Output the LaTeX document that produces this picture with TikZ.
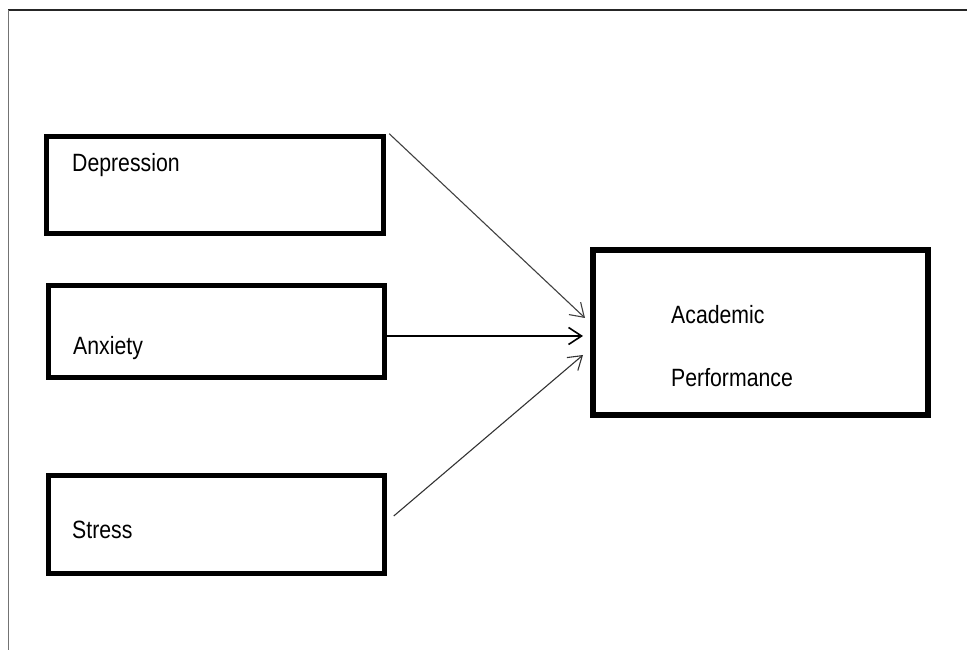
\documentclass[tikz,border=0pt]{standalone}
\usepackage{fontspec}
\setmainfont{Liberation Sans}[FakeStretch=0.85]
\usetikzlibrary{arrows.meta}

\begin{document}
\begin{tikzpicture}[x=1pt, y=1pt,
  caixa/.style={draw, rectangle, line width=5.5pt, inner sep=0pt},
  rotulo/.style={anchor=base west, inner sep=0pt, font=\fontsize{25}{30}\selectfont},
  seta/.style={-{Straight Barb[length=13pt, width=17pt]}, line width=1.1pt}]

\useasboundingbox (0,0) rectangle (967,650);

% moldura
\coordinate (m1) at (8,640);
\coordinate (m2) at (967,640);
\coordinate (m3) at (8,0);
\draw[black!85, line width=1.2pt] (m1) -- (m2);
\draw[black!55, line width=1pt] (m1) -- (m3);

% caixas da esquerda
\node[caixa, minimum width=337pt, minimum height=97pt] (dep) at (215,465) {};
\node[caixa, minimum width=336pt, minimum height=92pt] (anx) at (216.5,318.5) {};
\node[caixa, minimum width=336pt, minimum height=98pt] (str) at (216.5,125.5) {};

\node[rotulo] (tdep) at (72,478) {Depression};
\node[rotulo] (tanx) at (73,295) {Anxiety};
\node[rotulo] (tstr) at (72,111) {Stress};

% caixa da direita
\node[caixa, line width=6pt, minimum width=335pt, minimum height=165pt] (perf) at (760.5,317.5) {};
\node[rotulo] (tac) at (671,326) {Academic};
\node[rotulo] (tpf) at (671,263) {Performance};

% setas
\draw[seta, black!75] ([xshift=3pt]dep.north east) -- ([xshift=-5pt, yshift=14.5pt]perf.west);
\draw[seta, line width=1.6pt] ([yshift=-4.5pt]anx.east) -- ([xshift=-7pt, yshift=-3.5pt]perf.west);
\draw[seta, black!80] ([xshift=6.5pt, yshift=8.5pt]str.east) -- ([xshift=-7pt, yshift=-22.5pt]perf.west);

\end{tikzpicture}
\end{document}
